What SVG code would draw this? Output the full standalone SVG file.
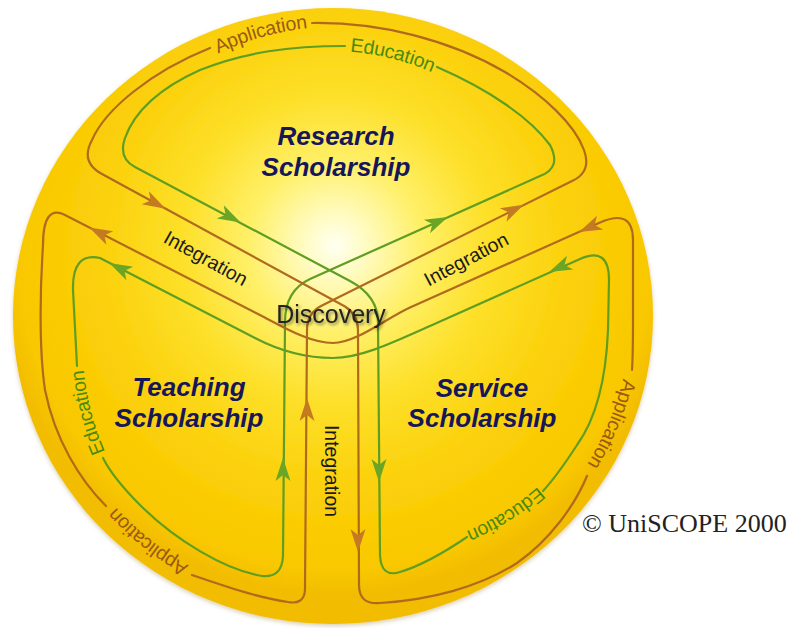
<svg xmlns="http://www.w3.org/2000/svg" width="799" height="628" viewBox="0 0 799 628">
<defs>
  <radialGradient id="bg" gradientUnits="userSpaceOnUse" cx="335" cy="255" r="340" fx="335" fy="245">
    <stop offset="0" stop-color="#fffff2"/>
    <stop offset="0.08" stop-color="#fffcc8"/>
    <stop offset="0.25" stop-color="#fff06a"/>
    <stop offset="0.45" stop-color="#fde02a"/>
    <stop offset="0.7" stop-color="#fbd00a"/>
    <stop offset="0.93" stop-color="#f9c800"/>
    <stop offset="1" stop-color="#f2bc00"/>
  </radialGradient>
  <filter id="ds" x="-20%" y="-40%" width="140%" height="180%">
    <feDropShadow dx="1.5" dy="2" stdDeviation="1.5" flood-color="#000" flood-opacity="0.45"/>
  </filter>
  <filter id="cs" x="-5%" y="-5%" width="110%" height="110%">
    <feDropShadow dx="0" dy="2" stdDeviation="2" flood-color="#806000" flood-opacity="0.3"/>
  </filter>
  <path id="ah" d="M12,0 L-11,-7.5 L-5,0 L-11,7.5 Z"/>
  <path id="tpAppTop" d="M205,52 A300 300 0 0 1 318,20"/>
  <path id="tpEduTop" d="M343,44 A275 275 0 0 1 442,69"/>
  <path id="tpEduLeft" d="M102,462 A280 280 0 0 1 76,362"/>
  <path id="tpAppBL" d="M196,577 A290 290 0 0 1 103,503"/>
  <path id="tpEduSvc" d="M547,488 A270 270 0 0 1 463,540"/>
  <path id="tpAppSvc" d="M633,366 A295 295 0 0 1 585,480"/>
</defs>
<style>
  .br{fill:none;stroke:#b06a1e;stroke-width:2.2;stroke-linecap:round;stroke-linejoin:round}
  .gr{fill:none;stroke:#5f9e22;stroke-width:2.2;stroke-linecap:round;stroke-linejoin:round}
  .ab{fill:#c47a20}
  .ag{fill:#6aa526}
  .lbl{font-family:"Liberation Sans",Arial,sans-serif;font-size:19.5px;dominant-baseline:central}
  .lb{fill:#9a5a14}
  .lg{fill:#4a8a10}
  .int{fill:#1a1a1a;text-anchor:middle}
  .sch{font-family:"Liberation Sans",Arial,sans-serif;font-size:26px;font-weight:bold;font-style:italic;fill:#16165a;text-anchor:middle}
</style>

<ellipse id="disc" cx="333" cy="316" rx="320" ry="308" fill="url(#bg)" filter="url(#cs)"/>

<g id="connectors">
  <!-- green (Education) loop -->
  <path class="gr" d="M437,67 C490,90 530,118 550,145 Q562,168 540,176 L310,279 C295,286 285,300 285,322 L283,556 Q282,578 262,576 C225,570 175,540 140,505 C125,490 110,472 103,458"/>
  <path class="gr" d="M77,366 L73,290 Q72,252 100,258 L255,338 C280,351 305,358 333,358 C360,358 390,344 430,326 L580,259 Q609,246 609,280 L608,330 C606,380 595,420 577,445 C566,462 555,478 543,491"/>
  <path class="gr" d="M467,537 C445,552 420,566 400,572 Q381,578 380,555 L378,322 C378,302 365,289 350,281 L135,167 Q118,158 125,138 C135,110 160,88 200,70 C245,52 290,46 345,46"/>
  <!-- brown (Application) loop -->
  <path class="br" d="M312,23 C380,22 450,40 505,72 C545,96 575,125 584,150 Q592,172 572,181 L322,305.5 C312,310.5 307,318 307,330 L305,590 Q304,605 288,602 C260,598 230,588 192,575"/>
  <path class="br" d="M106,506 C80,480 55,440 45,390 C39,350 40,290 43,245 Q43,204 65,215 L260,315 C285,328 310,343 333,343 C356,343 385,319 410,307.5 L600,222.6 Q633,208 633,240 L633,320 C633,340 633,355 632,370"/>
  <path class="br" d="M587,476 C575,505 550,540 517,563 C480,587 430,600 380,603 Q359,605 359,585 L358,330 C358,318 352,311 345,306.5 L102,174 Q80,162 92,140 C105,110 150,72 210,48"/>

  <!-- arrowheads -->
  <use href="#ah" class="ab" transform="translate(155,203) rotate(28.6)"/>
  <use href="#ah" class="ab" transform="translate(513,210) rotate(-26.6)"/>
  <use href="#ah" class="ab" transform="translate(100,233) rotate(207)"/>
  <use href="#ah" class="ab" transform="translate(590,227) rotate(156)"/>
  <use href="#ah" class="ab" transform="translate(307,410) rotate(-90)"/>
  <use href="#ah" class="ab" transform="translate(358,540) rotate(90)"/>
  <use href="#ah" class="ag" transform="translate(230,217) rotate(27.8)"/>
  <use href="#ah" class="ag" transform="translate(437,222) rotate(-24.2)"/>
  <use href="#ah" class="ag" transform="translate(120,268.5) rotate(207)"/>
  <use href="#ah" class="ag" transform="translate(560,267) rotate(156)"/>
  <use href="#ah" class="ag" transform="translate(283,470) rotate(-90)"/>
  <use href="#ah" class="ag" transform="translate(379,470) rotate(90)"/>

  <!-- ring labels -->
  <text class="lbl lb"><textPath href="#tpAppTop" startOffset="50%" text-anchor="middle">Application</textPath></text>
  <text class="lbl lg"><textPath href="#tpEduTop" startOffset="50%" text-anchor="middle">Education</textPath></text>
  <text class="lbl lg"><textPath href="#tpEduLeft" startOffset="50%" text-anchor="middle">Education</textPath></text>
  <text class="lbl lb"><textPath href="#tpAppBL" startOffset="50%" text-anchor="middle">Application</textPath></text>
  <text class="lbl lg"><textPath href="#tpEduSvc" startOffset="50%" text-anchor="middle">Education</textPath></text>
  <text class="lbl lb"><textPath href="#tpAppSvc" startOffset="50%" text-anchor="middle">Application</textPath></text>

  <!-- integration labels -->
  <text class="lbl int" transform="translate(206,258) rotate(29)">Integration</text>
  <text class="lbl int" transform="translate(466,259) rotate(-28)">Integration</text>
  <text class="lbl int" transform="translate(332,471) rotate(90)">Integration</text>
</g>

<g id="research">
  <text class="sch" x="336" y="145">Research</text>
  <text class="sch" x="336" y="176">Scholarship</text>
</g>
<g id="teaching">
  <text class="sch" x="189" y="396">Teaching</text>
  <text class="sch" x="189" y="427">Scholarship</text>
</g>
<g id="service">
  <text class="sch" x="482" y="397">Service</text>
  <text class="sch" x="482" y="427">Scholarship</text>
</g>
<g id="discovery">
  <text x="331" y="323" font-family="'Liberation Sans',Arial,sans-serif" font-size="25" fill="#222" text-anchor="middle" filter="url(#ds)">Discovery</text>
</g>
<g id="copyright">
  <text x="582" y="532" font-family="'Liberation Serif','Times New Roman',serif" font-size="26" fill="#222">© UniSCOPE 2000</text>
</g>
</svg>
